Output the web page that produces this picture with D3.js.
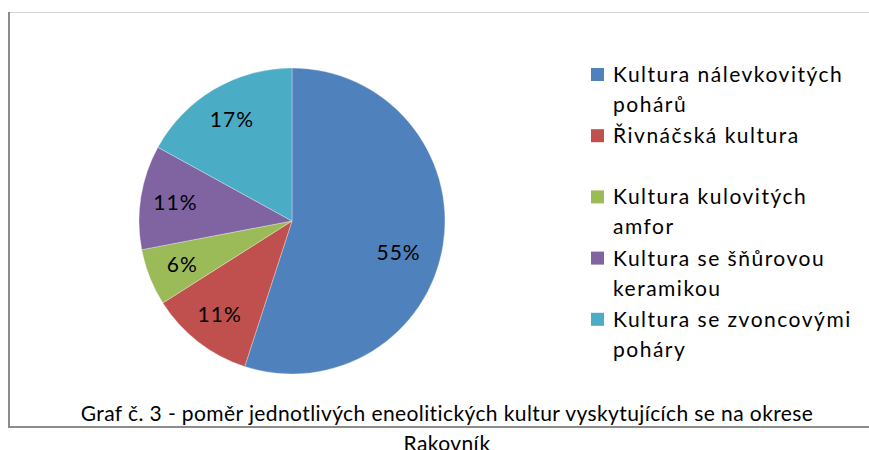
<!DOCTYPE html>
<html>
<head>
<meta charset="utf-8">
<script src="https://cdn.jsdelivr.net/npm/d3@7"></script>
<style>
  html, body { margin: 0; padding: 0; background: #fff; overflow: hidden; }
  text { font-family: Lato, "Open Sans", sans-serif; fill: #000; }
</style>
</head>
<body>
<svg id="chart" width="869" height="450"></svg>
<script>
const categories = [
  "Kultura nálevkovitých pohárů",
  "Řivnáčská kultura",
  "Kultura kulovitých amfor",
  "Kultura se šňůrovou keramikou",
  "Kultura se zvoncovými poháry"
];
const legendLines = [
  ["Kultura nálevkovitých", "pohárů"],
  ["Řivnáčská kultura", ""],
  ["Kultura kulovitých", "amfor"],
  ["Kultura se šňůrovou", "keramikou"],
  ["Kultura se zvoncovými", "poháry"]
];
const values = [55, 11, 6, 11, 17];
const colors = ["#4F81BD", "#C0504D", "#9BBB59", "#8064A2", "#4BACC6"];
const captionLines = [
  "Graf č. 3 - poměr jednotlivých eneolitických kultur vyskytujících se na okrese",
  "Rakovník"
];

const svg = d3.select("#chart");

// frame
svg.append("line").attr("x1", 8).attr("x2", 869).attr("y1", 12.5).attr("y2", 12.5)
  .attr("stroke", "#d4d4d4").attr("stroke-width", 1);
svg.append("line").attr("x1", 9).attr("x2", 9).attr("y1", 12).attr("y2", 428)
  .attr("stroke", "#8c8c8c").attr("stroke-width", 2);
svg.append("line").attr("x1", 8).attr("x2", 869).attr("y1", 427).attr("y2", 427)
  .attr("stroke", "#8c8c8c").attr("stroke-width", 2);

const cx = 292, cy = 221, radius = 153;

const pie = d3.pie().sort(null).value(d => d)(values);
const arc = d3.arc().innerRadius(0).outerRadius(radius);
const labelArc = d3.arc().innerRadius(118).outerRadius(118);

const g = svg.append("g").attr("transform", `translate(${cx},${cy})`);

g.selectAll("path.slice")
  .data(pie)
  .enter()
  .append("path")
  .attr("class", "slice")
  .attr("d", arc)
  .attr("fill", (d, i) => colors[i])
  .attr("stroke", "rgba(255,255,255,0.5)")
  .attr("stroke-width", 0.6);

g.selectAll("text.pct")
  .data(pie)
  .enter()
  .append("text")
  .attr("class", "pct")
  .attr("transform", d => {
    const c = labelArc.centroid(d);
    // the big slice's label sits a bit lower and further in, as in the original
    if (d.endAngle - d.startAngle > Math.PI) return `translate(${c[0] - 10},${c[1] + 13})`;
    return `translate(${c})`;
  })
  .attr("text-anchor", "middle")
  .attr("dy", "0.35em")
  .style("font-size", "21px")
  .style("letter-spacing", "1px")
  .text(d => d.data + "%");

// legend
const legendY = d3.scaleBand().domain(d3.range(categories.length)).range([60, 366]);
const legend = svg.append("g");
const item = legend.selectAll("g.item")
  .data(legendLines)
  .enter()
  .append("g")
  .attr("class", "item")
  .attr("transform", (d, i) => `translate(591,${legendY(i)})`);

item.append("rect")
  .attr("x", 0).attr("y", 8)
  .attr("width", 13).attr("height", 13)
  .attr("fill", (d, i) => colors[i]);

item.each(function (d) {
  const sel = d3.select(this);
  d.forEach((line, j) => {
    sel.append("text")
      .attr("x", 22)
      .attr("y", 22 + j * 30)
      .style("font-size", "21px")
      .style("letter-spacing", "1.5px")
      .text(line);
  });
});

// caption
svg.selectAll("text.caption")
  .data(captionLines)
  .enter()
  .append("text")
  .attr("class", "caption")
  .attr("x", 447)
  .attr("y", (d, i) => 421 + i * 30)
  .attr("text-anchor", "middle")
  .style("font-size", "21px")
  .style("letter-spacing", "0.4px")
  .text(d => d);
</script>
</body>
</html>
